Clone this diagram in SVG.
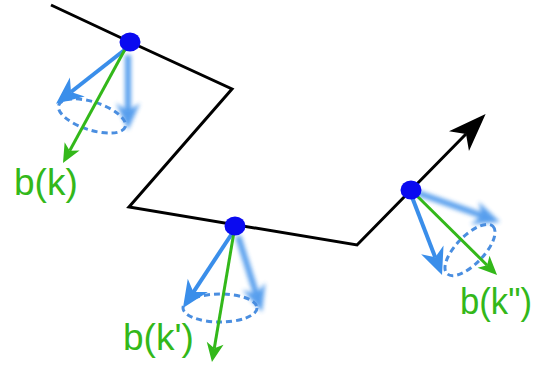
<svg xmlns="http://www.w3.org/2000/svg" width="536" height="365" viewBox="0 0 536 365">
<style>
.path{fill:none;stroke:#000;stroke-width:3;stroke-linejoin:miter}
.green{fill:none;stroke:#33b81a;stroke-width:3;marker-end:url(#mg)}
.blue{fill:none;stroke:#3a8eea;stroke-width:4;marker-end:url(#mb)}
.blur{fill:none;stroke:#3a8eea;stroke-width:6;marker-end:url(#mb)}
.cone{fill:none;stroke:#4a8ee0;stroke-width:3;stroke-dasharray:6 4}
.dot{fill:#0a0af0}
.lbl{font-family:"Liberation Sans",Arial,sans-serif;font-size:37px;fill:#33b81a}
</style>
<defs>
<marker id="mk" markerUnits="userSpaceOnUse" orient="auto" overflow="visible" refX="0" refY="0" markerWidth="1" markerHeight="1">
<path d="M28,0 L-10,-14 L0,0 L-10,14 Z" fill="#000"/>
</marker>
<marker id="mg" markerUnits="userSpaceOnUse" orient="auto" overflow="visible" refX="0" refY="0" markerWidth="1" markerHeight="1">
<path d="M14,0 L-5,-8.5 L0,0 L-5,8.5 Z" fill="#33b81a"/>
</marker>
<marker id="mb" markerUnits="userSpaceOnUse" orient="auto" overflow="visible" refX="0" refY="0" markerWidth="1" markerHeight="1">
<path d="M19,0 L-8,-12 L0,0 L-8,12 Z" fill="#3a8eea"/>
</marker>
<filter id="fz" filterUnits="userSpaceOnUse" x="0" y="0" width="536" height="365">
<feGaussianBlur stdDeviation="2.2"/>
</filter>
</defs>
<g id="connectors">
<path class="path" d="M51,5 L130,42 L232,89 L129,207 L357,245 L411,190 L466,134" marker-end="url(#mk)"/>
</g>
<g id="node-k">
<g filter="url(#fz)" opacity="0.85"><path class="blur" d="M128,55 L128,111"/></g>
<ellipse class="cone" cx="92" cy="116" rx="35" ry="14" transform="rotate(18 92 116)"/>
<path class="blue" d="M127,48 L71,92"/>
<path class="green" d="M129,42 L69.7,150.7"/>
<ellipse class="dot" cx="130" cy="42" rx="10.5" ry="9.5"/>
<text class="lbl" x="14" y="195">b(k)</text>
</g>
<g id="node-k1">
<g filter="url(#fz)" opacity="0.85"><path class="blur" d="M238,236 L256.3,294"/></g>
<ellipse class="cone" cx="220" cy="308" rx="37" ry="14"/>
<path class="blue" d="M233,232 L193.4,292.1"/>
<path class="green" d="M235,226 L214.3,348.2"/>
<ellipse class="dot" cx="235" cy="226" rx="10.5" ry="9.5"/>
<text class="lbl" x="123" y="350">b(k')</text>
</g>
<g id="node-k2">
<g filter="url(#fz)" opacity="0.85"><path class="blur" d="M418,193 L482.1,215.7"/></g>
<ellipse class="cone" cx="470" cy="250" rx="33" ry="14" transform="rotate(-46 470 250)"/>
<path class="blue" d="M412,197 L435.2,257.3"/>
<path class="green" d="M411,190 L487.1,265.2"/>
<ellipse class="dot" cx="411" cy="190" rx="10.5" ry="9.5"/>
<text class="lbl" x="460" y="314" textLength="72" lengthAdjust="spacingAndGlyphs">b(k")</text>
</g>
</svg>
